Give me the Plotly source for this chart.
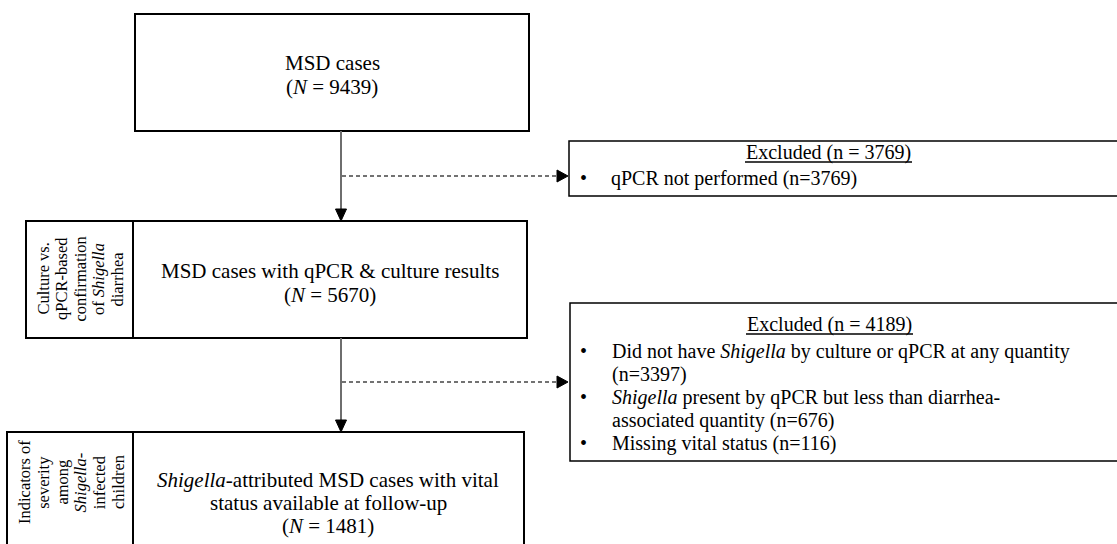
import plotly.graph_objects as go

# ---- data ----
stage_names = ["MSD cases",
               "MSD cases with qPCR & culture results",
               "<i>Shigella</i>-attributed MSD cases with vital",
               ]
stage_counts = [9439, 5670, 1481]
excluded_totals = [3769, 4189]
excl1_reasons = ["qPCR not performed"]
excl1_counts = [3769]
excl2_reasons = ["Did not have <i>Shigella</i> by culture or qPCR at any quantity",
                 "<i>Shigella</i> present by qPCR but less than diarrhea-",
                 "Missing vital status"]
excl2_counts = [3397, 676, 116]
side1_lines = ["Culture vs.", "qPCR-based", "confirmation", "of <i>Shigella</i>", "diarrhea"]
side2_lines = ["Indicators of", "severity", "among", "<i>Shigella</i>-", "infected", "children"]

FONT = "Liberation Serif, Times New Roman, serif"
W, H = 1117, 544

fig = go.Figure()
shapes = []
ann = []

def box(x0, y0, x1, y1, w=2):
    shapes.append(dict(type="rect", xref="x", yref="y", x0=x0, y0=y0, x1=x1, y1=y1,
                       line=dict(color="black", width=w), fillcolor="rgba(0,0,0,0)"))

def text(x, y, s, size=20, xanchor="center", angle=0):
    ann.append(dict(x=x, y=y, xref="x", yref="y", text=s, showarrow=False,
                    xanchor=xanchor, yanchor="middle", textangle=angle,
                    font=dict(family=FONT, size=size, color="black")))

# main boxes
box(135, 14, 529, 131)
box(133, 221, 527, 338)
box(133, 432, 524, 570)
# side boxes
box(26, 221, 133, 338)
box(7, 432, 133, 570)
# excluded boxes
box(569, 141, 1130, 196, w=1.5)
box(570, 303, 1130, 461, w=1.5)

# main box text
MS = 21
text(332, 63, stage_names[0], size=MS)
text(332, 87, f"(<i>N</i> = {stage_counts[0]})", size=MS)
text(330, 271, stage_names[1], size=MS)
text(330, 295, f"(<i>N</i> = {stage_counts[1]})", size=MS)
text(328, 480, stage_names[2], size=MS)
text(328, 503, "status available at follow-up", size=MS)
text(328, 526, f"(<i>N</i> = {stage_counts[2]})", size=MS)

# side text (rotated)
for i, s in enumerate(side1_lines):
    text(42.5 + 18.5 * i, 279, s, size=16.5, angle=-90)
for i, s in enumerate(side2_lines):
    text(24 + 18.8 * i, 482, s, size=16.5, angle=-90)

# excluded box 1
text(828, 152, f"Excluded (n = {excluded_totals[0]})")
shapes.append(dict(type="line", xref="x", yref="y", x0=745, x1=912, y0=162, y1=162,
                   line=dict(color="black", width=1.5)))
text(583, 178, "•")
text(609, 178, f"{excl1_reasons[0]} (n={excl1_counts[0]})", xanchor="left")

# excluded box 2
text(829, 324, f"Excluded (n = {excluded_totals[1]})")
shapes.append(dict(type="line", xref="x", yref="y", x0=746, x1=913, y0=334, y1=334,
                   line=dict(color="black", width=1.5)))
lines2 = [("•", excl2_reasons[0]),
          ("", f"(n={excl2_counts[0]})"),
          ("•", excl2_reasons[1]),
          ("", f"associated quantity (n={excl2_counts[1]})"),
          ("•", f"{excl2_reasons[2]} (n={excl2_counts[2]})")]
for i, (b, s) in enumerate(lines2):
    yy = 351 + 23 * i
    if b:
        text(583, yy, b)
    text(610, yy, s, xanchor="left")

# connectors
shapes.append(dict(type="line", xref="x", yref="y", x0=341, x1=341, y0=131, y1=210,
                   line=dict(color="#6e6e6e", width=2)))
shapes.append(dict(type="line", xref="x", yref="y", x0=341, x1=341, y0=338, y1=420,
                   line=dict(color="#6e6e6e", width=2)))
for yy in (176, 382):
    shapes.append(dict(type="line", xref="x", yref="y", x0=342, x1=558, y0=yy, y1=yy,
                       line=dict(color="#444444", width=1.5, dash="4px,3px")))
    shapes.append(dict(type="path", xref="x", yref="y",
                       path=f"M 557 {yy-6} L 568 {yy} L 557 {yy+6} Z",
                       fillcolor="black", line=dict(color="black", width=1)))
for yt in (221, 432):
    shapes.append(dict(type="path", xref="x", yref="y",
                       path=f"M 335.5 {yt-12} L 346.5 {yt-12} L 341 {yt} Z",
                       fillcolor="black", line=dict(color="black", width=1)))

fig.update_layout(
    width=W, height=H,
    margin=dict(l=0, r=0, t=0, b=0),
    paper_bgcolor="white", plot_bgcolor="white",
    xaxis=dict(range=[0, W], visible=False, fixedrange=True),
    yaxis=dict(range=[H, 0], visible=False, fixedrange=True),
    shapes=shapes, annotations=ann, showlegend=False,
)
fig.write_html("out.html", config={"displayModeBar": False},
               post_script="document.body.style.margin='0';document.body.style.overflow='hidden';")
